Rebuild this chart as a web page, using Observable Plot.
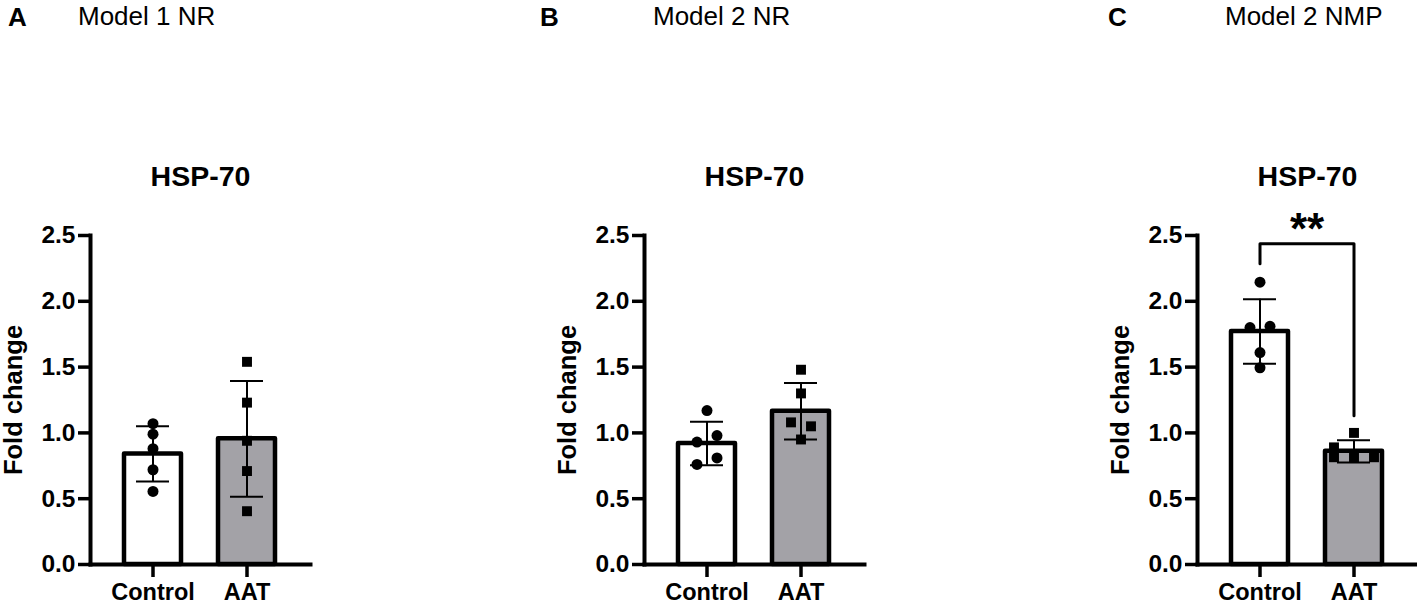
<!DOCTYPE html>
<html>
<head>
<meta charset="utf-8">
<script src="https://cdn.jsdelivr.net/npm/d3@7"></script>
<script src="https://cdn.jsdelivr.net/npm/@observablehq/plot@0.6"></script>
<style>
  html, body { margin: 0; padding: 0; background: #fff; overflow: hidden; }
  #root { position: relative; width: 1417px; height: 608px; }
  .panel { position: absolute; top: 0; }
  #overlay { position: absolute; left: 0; top: 0; }
</style>
</head>
<body>
<div id="root"></div>
<script>
// ---- data ----
const groups = ["Control", "AAT"];
const yTicks = [0, 0.5, 1.0, 1.5, 2.0, 2.5];
const panelLetters = ["A", "B", "C"];
const panelTitles = ["Model 1 NR", "Model 2 NR", "Model 2 NMP"];
const chartTitle = "HSP-70";
const yLabel = "Fold change";

// Panel A (Model 1 NR)
const meanA = [0.84, 0.955];
const sdA = [0.21, 0.44];
const controlA = [1.07, 0.99, 0.88, 0.72, 0.555];
const controlColA = [0, 0, 0, 0, 0];
const aatA = [1.54, 1.23, 0.94, 0.71, 0.405];
const aatColA = [0, 0, 0, 0, 0];

// Panel B (Model 2 NR)
const meanB = [0.92, 1.165];
const sdB = [0.165, 0.215];
const controlB = [1.17, 0.93, 0.98, 0.76, 0.81];
const controlColB = [0, -1, 1, -1, 1];
const aatB = [1.48, 1.30, 1.08, 1.05, 0.95];
const aatColB = [0, 0, -1, 1, 0];

// Panel C (Model 2 NMP)
const meanC = [1.77, 0.86];
const sdC = [0.245, 0.085];
const controlC = [2.145, 1.80, 1.81, 1.61, 1.495];
const controlColC = [0, -1, 1, 0, 0];
const aatC = [0.89, 1.0, 0.815, 0.815, 0.815];
const aatColC = [-2, 0, -2, 0, 2];

// significance annotation (panel C): left leg bottom, bracket top, right leg bottom
const sigBracket = [2.285, 2.437, 1.13];
const sigLabel = "**";
const sigLabelY = 2.54;

// ---- layout ----
const FONT = "'Liberation Sans', Arial, Helvetica, sans-serif";
const axisLeft = [90, 644, 1197];
const panelW = 310, mLeft = 90;
const letterX = [8, 540, 1108];
const titleX = [78, 653, 1225];

const panels = [
  {mean: meanA, sd: sdA, control: controlA, controlCol: controlColA, aat: aatA, aatCol: aatColA, sig: false},
  {mean: meanB, sd: sdB, control: controlB, controlCol: controlColB, aat: aatB, aatCol: aatColB, sig: false},
  {mean: meanC, sd: sdC, control: controlC, controlCol: controlColC, aat: aatC, aatCol: aatColC, sig: true}
];

const root = document.getElementById("root");

panels.forEach((cfg, i) => {
  const bars = groups.map((g, j) => ({group: g, mean: cfg.mean[j], sd: cfg.sd[j], lo: cfg.mean[j] - cfg.sd[j], hi: cfg.mean[j] + cfg.sd[j]}));
  const pts = [
    ...cfg.control.map((v, k) => ({group: "Control", value: v, col: cfg.controlCol[k], shape: "circle"})),
    ...cfg.aat.map((v, k) => ({group: "AAT", value: v, col: cfg.aatCol[k], shape: "square"}))
  ];
  const cols = Array.from(new Set(pts.map(p => p.col)));
  const marks = [
    Plot.barY(bars.filter(b => b.group === "Control"), {x: "group", y: "mean", fill: "white", stroke: "black", strokeWidth: 4.5, strokeLinejoin: "round"}),
    Plot.barY(bars.filter(b => b.group === "AAT"), {x: "group", y: "mean", fill: "#a3a2a7", stroke: "black", strokeWidth: 4.5, strokeLinejoin: "round"}),
    Plot.ruleX(bars, {x: "group", y1: "lo", y2: "hi", stroke: "black", strokeWidth: 2}),
    Plot.tickY(bars, {x: "group", y: "hi", stroke: "black", strokeWidth: 2, insetLeft: 12, insetRight: 12}),
    Plot.tickY(bars, {x: "group", y: "lo", stroke: "black", strokeWidth: 2, insetLeft: 12, insetRight: 12}),
  ];
  cols.forEach(c => {
    marks.push(Plot.dot(pts.filter(p => p.col === c && p.shape === "circle"), {x: "group", y: "value", symbol: "circle", r: 5.5, fill: "black", stroke: "none", dx: c * 10}));
    marks.push(Plot.dot(pts.filter(p => p.col === c && p.shape === "square"), {x: "group", y: "value", symbol: "square", r: 5.6, fill: "black", stroke: "none", dx: c * 10}));
  });
  marks.push(
    Plot.frame({anchor: "left", stroke: "black", strokeWidth: 4, strokeLinecap: "square"}),
    Plot.frame({anchor: "bottom", stroke: "black", strokeWidth: 4, strokeLinecap: "square"}),
    Plot.axisY({ticks: yTicks, tickFormat: d3.format(".1f"), tickSize: 12, tickPadding: 3, strokeWidth: 3.5, fontSize: 24.5, label: null}),
    Plot.axisX({tickSize: 13, tickPadding: 6, strokeWidth: 3.5, fontSize: 23.5, label: null}),
    Plot.text([yLabel], {frameAnchor: "left", textAnchor: "middle", rotate: -90, dx: -77, fontSize: 25.5, fontWeight: "bold", text: d => d}),
    Plot.text([chartTitle], {frameAnchor: "top", lineAnchor: "bottom", dy: -50, fontSize: 28.5, fontWeight: "bold", text: d => d})
  );
  if (cfg.sig) {
    const br = [
      {group: "Control", y: sigBracket[0]},
      {group: "Control", y: sigBracket[1]},
      {group: "AAT", y: sigBracket[1]},
      {group: "AAT", y: sigBracket[2]}
    ];
    marks.push(Plot.line(br, {x: "group", y: "y", stroke: "black", strokeWidth: 3, strokeLinejoin: "round", curve: "linear"}));
    marks.push(Plot.text([sigLabel], {x: () => "Control", y: () => sigLabelY, dx: 47, text: d => d, fontSize: 44, fontWeight: "bold"}));
  }
  const chart = Plot.plot({
    width: panelW,
    height: 608,
    marginLeft: mLeft,
    marginRight: 0,
    marginTop: 235,
    marginBottom: 44,
    x: {type: "band", domain: groups, paddingInner: 0.39, paddingOuter: 0.36, axis: null},
    y: {domain: [0, 2.5], axis: null},
    style: {fontFamily: FONT, fontWeight: "bold", color: "black", background: "transparent", overflow: "visible"},
    marks
  });
  const div = document.createElement("div");
  div.className = "panel";
  div.style.left = (axisLeft[i] - mLeft) + "px";
  div.appendChild(chart);
  root.appendChild(div);
});

// header labels (panel letters and model titles)
const ov = d3.select(root).append("svg").attr("id", "overlay").attr("width", 1417).attr("height", 608)
  .style("pointer-events", "none");
panelLetters.forEach((l, i) => {
  ov.append("text").attr("x", letterX[i]).attr("y", 26).attr("font-family", FONT).attr("font-weight", "bold")
    .attr("font-size", 26).attr("fill", "black").text(l);
  ov.append("text").attr("x", titleX[i]).attr("y", 24.5).attr("font-family", FONT)
    .attr("font-size", 26).attr("fill", "black").text(panelTitles[i]);
});
</script>
</body>
</html>
